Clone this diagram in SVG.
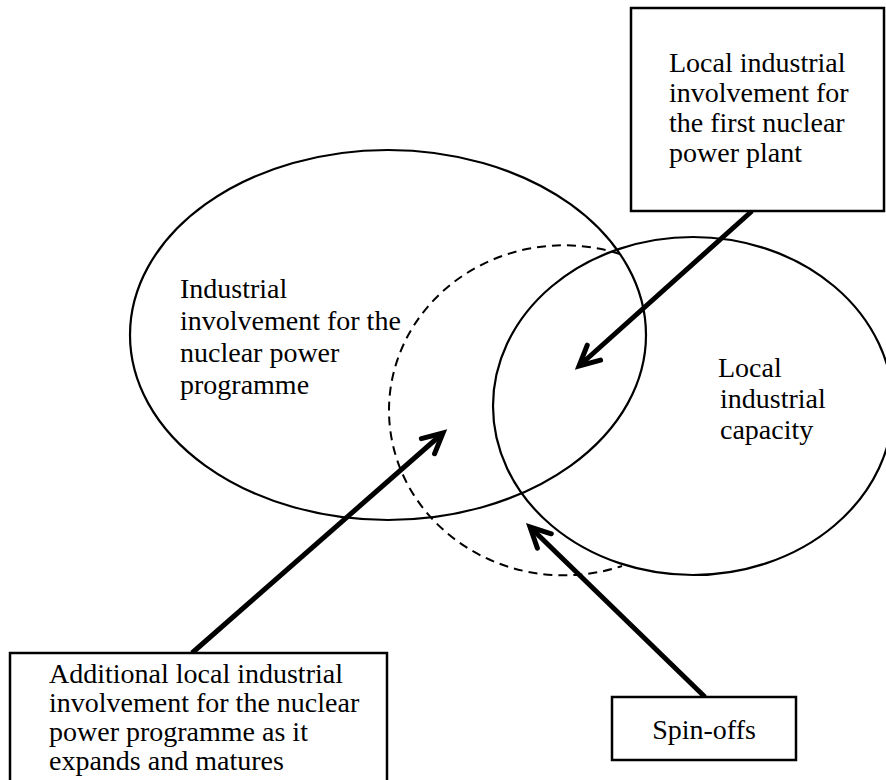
<svg xmlns="http://www.w3.org/2000/svg" width="886" height="780" viewBox="0 0 886 780">
  <defs>
    <style>
      .t { font-family: "Liberation Serif", "Times New Roman", serif; font-size: 28px; fill: #000; }
      .box { fill: #fff; stroke: #000; stroke-width: 2.5; }
      .ell { fill: none; stroke: #000; stroke-width: 2.2; }
      .dash { fill: none; stroke: #000; stroke-width: 2; stroke-dasharray: 9 6; }
      .arr { fill: none; stroke: #000; stroke-width: 5; marker-end: url(#head); }
    </style>
    <marker id="head" markerUnits="userSpaceOnUse" markerWidth="30" markerHeight="30" viewBox="-24 -15 30 30" refX="0" refY="0" orient="auto">
      <path d="M-20,-10 L0,0 L-20,10" fill="none" stroke="#000" stroke-width="5" stroke-linecap="round" stroke-linejoin="miter"/>
    </marker>
  </defs>
  <rect width="886" height="780" fill="#fff"/>

  <g id="ellipses">
    <ellipse id="programme" class="ell" cx="388" cy="335" rx="258" ry="185"/>
    <ellipse id="capacity" class="ell" cx="693" cy="406" rx="200" ry="169"/>
    <path id="expansion" class="dash" d="M620,254 A175,165 0 1 0 622,566"/>
  </g>

  <g id="label-programme">
    <text class="t" x="180" y="298">Industrial</text>
    <text class="t" x="180" y="330">involvement for the</text>
    <text class="t" x="180" y="362">nuclear power</text>
    <text class="t" x="180" y="394">programme</text>
  </g>

  <g id="label-capacity">
    <text class="t" x="718" y="377">Local</text>
    <text class="t" x="720" y="408">industrial</text>
    <text class="t" x="720" y="439">capacity</text>
  </g>

  <g id="connectors">
    <line class="arr" x1="752" y1="211" x2="579" y2="366"/>
    <line class="arr" x1="192" y1="653" x2="443" y2="433"/>
    <line class="arr" x1="705" y1="697" x2="530" y2="527"/>
  </g>

  <g id="box-first-plant">
    <rect class="box" x="631" y="8" width="253" height="203"/>
    <text class="t" x="669" y="72">Local industrial</text>
    <text class="t" x="669" y="102">involvement for</text>
    <text class="t" x="669" y="132">the first nuclear</text>
    <text class="t" x="669" y="162">power plant</text>
  </g>

  <g id="box-additional">
    <rect class="box" x="10" y="653" width="377" height="140"/>
    <text class="t" x="49" y="683">Additional local industrial</text>
    <text class="t" x="49" y="712">involvement for the nuclear</text>
    <text class="t" x="49" y="741">power programme as it</text>
    <text class="t" x="49" y="770">expands and matures</text>
  </g>

  <g id="box-spinoffs">
    <rect class="box" x="612" y="697" width="184" height="63"/>
    <text class="t" x="704" y="739" text-anchor="middle">Spin-offs</text>
  </g>
</svg>
